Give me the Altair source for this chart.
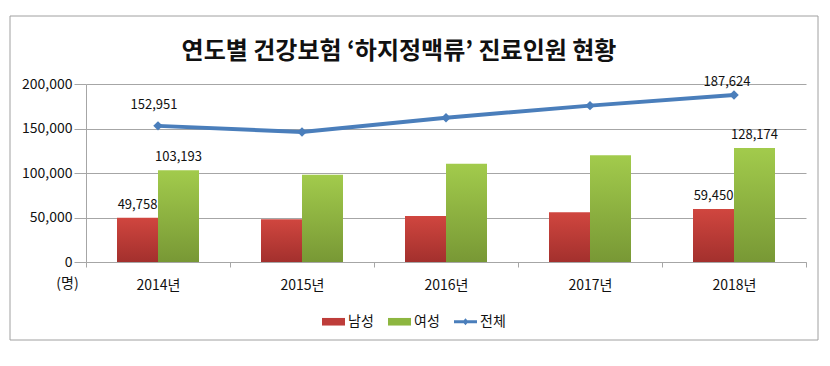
import altair as alt
import pandas as pd

years = ["2014년", "2015년", "2016년", "2017년", "2018년"]
male = [49758, 48000, 51800, 55800, 59450]
female = [103193, 98000, 110300, 119900, 128174]
total = [152951, 146000, 162100, 175700, 187624]
y_ticks = [0, 50000, 100000, 150000, 200000]
series_names = ["남성", "여성", "전체"]
series_colors = ["#BE3D3A", "#8DB640", "#4A7EBB"]
labeled_years = ["2014년", "2018년"]
title_text = "연도별 건강보험 ‘하지정맥류’ 진료인원 현황"

FONT = "Noto Sans CJK KR"
GRID = "#A6A6A6"

df = pd.DataFrame({"year": years, "male": male, "female": female, "total": total})

x_enc = alt.X(
    "year:N",
    sort=years,
    scale=alt.Scale(type="band", paddingInner=0, paddingOuter=0),
    axis=alt.Axis(
        title=None, labelAngle=0, tickBand="extent", tickSize=5, labelPadding=11,
        domainColor=GRID, tickColor=GRID, labelFontSize=14, labelFont=FONT,
        labelColor="#111111", grid=False,
    ),
)

def y_enc(field):
    return alt.Y(
        f"{field}:Q",
        scale=alt.Scale(domain=[0, 200000], nice=False, zero=True),
        axis=alt.Axis(
            values=y_ticks, format=",d", title="(명)", titleAngle=0, titleX=-19, titleY=199,
            titleAlign="center", titleBaseline="middle", titleFontWeight="normal",
            titleFontSize=14, titleFont=FONT, titleColor="#111111",
            grid=True, gridColor=GRID, tickSize=12, labelPadding=2,
            domainColor=GRID, tickColor=GRID, labelFontSize=14, labelFont=FONT,
            labelColor="#111111",
        ),
    )

red_grad = alt.Gradient(
    gradient="linear",
    stops=[alt.GradientStop(color="#D0463F", offset=0), alt.GradientStop(color="#A3302D", offset=1)],
    x1=0, x2=0, y1=0, y2=1,
)
green_grad = alt.Gradient(
    gradient="linear",
    stops=[alt.GradientStop(color="#A2CB4C", offset=0), alt.GradientStop(color="#789835", offset=1)],
    x1=0, x2=0, y1=0, y2=1,
)

base = alt.Chart(df)

male_bars = base.mark_bar(width=41, xOffset=-20.5, color=red_grad).encode(x=x_enc, y=y_enc("male"))
female_bars = base.mark_bar(width=41, xOffset=20.5, color=green_grad).encode(x=x_enc, y=y_enc("female"))

line = base.mark_line(color="#4A7EBB", strokeWidth=4).encode(x=x_enc, y=y_enc("total"))
points = base.mark_point(shape="diamond", filled=True, size=90, color="#4A7EBB", opacity=1).encode(
    x=x_enc, y=y_enc("total")
)

labeled = base.transform_filter(alt.FieldOneOfPredicate(field="year", oneOf=labeled_years))
txt = dict(font=FONT, fontSize=13, color="#111111", baseline="alphabetic", align="center")

male_lbl = labeled.mark_text(dy=-9, xOffset=-20.5, **txt).encode(
    x=x_enc, y=y_enc("male"), text=alt.Text("male:Q", format=",d")
)
female_lbl = labeled.mark_text(dy=-9, xOffset=20.5, **txt).encode(
    x=x_enc, y=y_enc("female"), text=alt.Text("female:Q", format=",d")
)
total_lbl_2014 = base.transform_filter(alt.FieldEqualPredicate(field="year", equal=labeled_years[0])).mark_text(
    dy=-17, dx=-4, **txt
).encode(x=x_enc, y=y_enc("total"), text=alt.Text("total:Q", format=",d"))
total_lbl_2018 = base.transform_filter(alt.FieldEqualPredicate(field="year", equal=labeled_years[1])).mark_text(
    dy=-9, dx=-7, **txt
).encode(x=x_enc, y=y_enc("total"), text=alt.Text("total:Q", format=",d"))

rect_path = "M-1,-0.33 L1,-0.33 L1,0.33 L-1,0.33 Z"
line_path = "M-1,-0.12 L1,-0.12 L1,0.12 L-1,0.12 Z M0,-0.3 L0.26,0 L0,0.3 L-0.26,0 Z"

legend_props = dict(
    title=None, orient="none", legendX=236, legendY=226, direction="horizontal",
    symbolSize=529, labelFontSize=14, labelFont=FONT, labelColor="#111111",
    labelOffset=3, columnPadding=14, symbolStrokeWidth=0, symbolOpacity=1,
)

legend_layer = (
    alt.Chart(pd.DataFrame({"series": series_names}))
    .transform_filter("datum.series == 'none'")
    .mark_point(filled=True, opacity=1)
    .encode(
        color=alt.Color(
            "series:N",
            scale=alt.Scale(domain=series_names, range=series_colors),
            legend=alt.Legend(**legend_props),
        ),
        shape=alt.Shape(
            "series:N",
            scale=alt.Scale(domain=series_names, range=[rect_path, rect_path, line_path]),
            legend=alt.Legend(**legend_props),
        ),
    )
)

frame = alt.Chart(pd.DataFrame({"k": [0]})).mark_rect(
    fill=None, stroke="#A0A0A0", strokeWidth=1
).encode(
    x=alt.value(-76), x2=alt.value(732), y=alt.value(-68), y2=alt.value(256)
)

chart = (
    alt.layer(
        frame, male_bars, female_bars, line, points,
        male_lbl, female_lbl, total_lbl_2014, total_lbl_2018, legend_layer,
    )
    .resolve_scale(y="shared")
    .properties(
        width=720,
        height=178,
        title=alt.TitleParams(
            title_text, fontSize=24, font=FONT, fontWeight="bold", anchor="middle",
            offset=-48, dx=-47, color="#111111",
        ),
        autosize=alt.AutoSizeParams(type="none"),
        padding={"left": 78, "top": 76, "right": 16, "bottom": 96},
        background="white",
    )
    .configure_view(stroke=None)
)

chart.save("out.html", embed_options={"renderer": "svg", "actions": False})
